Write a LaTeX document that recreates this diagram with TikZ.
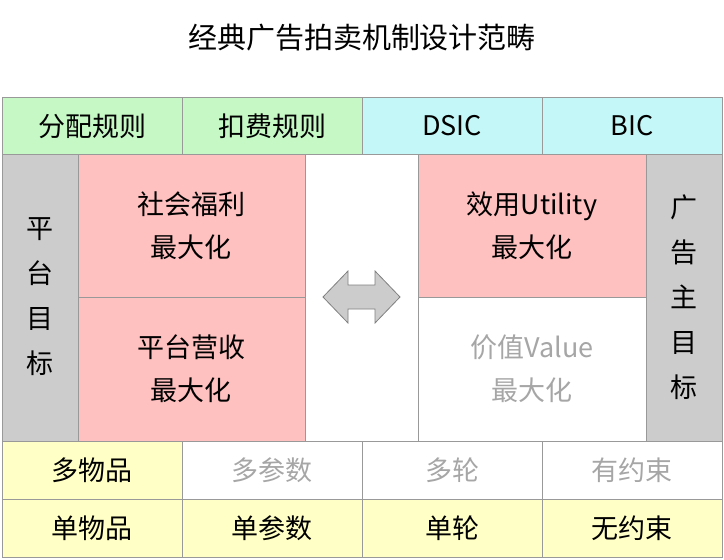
\documentclass[tikz,border=0pt]{standalone}
\usepackage{fontspec}
\setmainfont{Noto Sans CJK SC}
\begin{document}
\begin{tikzpicture}[x=1pt,y=-1pt,
 cell/.style={draw=black!40,line width=0.8pt},
 t/.style={font=\fontsize{27}{43}\selectfont,align=center,text=black},
 tv/.style={font=\fontsize{27}{45}\selectfont,align=center,text=black},
 tg/.style={font=\fontsize{27}{43}\selectfont,align=center,text=black!35}]
\useasboundingbox (0,0) rectangle (724,560);
\definecolor{cg}{HTML}{C6F8C6}\definecolor{cc}{HTML}{C4F8F8}
\definecolor{cgr}{HTML}{CCCCCC}\definecolor{cp}{HTML}{FFC0C0}\definecolor{cy}{HTML}{FFFFC6}
\node[font=\fontsize{29}{35}\selectfont] (title) at (362,38) {经典广告拍卖机制设计范畴};
% top row
\filldraw[cell,fill=cg] (2,97) rectangle (182,154); \node[t] (a1) at (92,126) {分配规则};
\filldraw[cell,fill=cg] (182,97) rectangle (362,154); \node[t] (a2) at (272,126) {扣费规则};
\filldraw[cell,fill=cc] (362,97) rectangle (542,154); \node[t] (a3) at (452,126) {DSIC};
\filldraw[cell,fill=cc] (542,97) rectangle (722,154); \node[t] (a4) at (632,126) {BIC};
% middle
\filldraw[cell,fill=cgr] (2,154) rectangle (78,441); \node[tv] (l) at (40,297) {平\\台\\目\\标};
\filldraw[cell,fill=cp] (78,154) rectangle (305,297); \node[t] (p1) at (191,226) {社会福利\\最大化};
\filldraw[cell,fill=cp] (78,297) rectangle (305,441); \node[t] (p2) at (191,369) {平台营收\\最大化};
\draw[cell,fill=white] (305,154) rectangle (418,441);
\filldraw[cell,fill=cp] (418,154) rectangle (646,297); \node[t] (p3) at (532,226) {效用Utility\\最大化};
\draw[cell,fill=white] (418,297) rectangle (646,441); \node[tg] (p4) at (532,369) {价值Value\\最大化};
\filldraw[cell,fill=cgr] (646,154) rectangle (722,441); \node[tv] (r) at (684,297) {广\\告\\主\\目\\标};
\filldraw[draw=black!50,fill=black!20,line width=0.8pt] (323,297) -- (348,271) -- (348,285) -- (375,285) -- (375,271) -- (400,297) -- (375,323) -- (375,309) -- (348,309) -- (348,323) -- cycle;
% bottom rows
\filldraw[cell,fill=cy] (2,441) rectangle (182,499); \node[t] (b1) at (92,470) {多物品};
\draw[cell] (182,441) rectangle (362,499); \node[tg] (b2) at (272,470) {多参数};
\draw[cell] (362,441) rectangle (542,499); \node[tg] (b3) at (452,470) {多轮};
\draw[cell] (542,441) rectangle (722,499); \node[tg] (b4) at (632,470) {有约束};
\filldraw[cell,fill=cy] (2,499) rectangle (182,557); \node[t] (c1) at (92,528) {单物品};
\filldraw[cell,fill=cy] (182,499) rectangle (362,557); \node[t] (c2) at (272,528) {单参数};
\filldraw[cell,fill=cy] (362,499) rectangle (542,557); \node[t] (c3) at (452,528) {单轮};
\filldraw[cell,fill=cy] (542,499) rectangle (722,557); \node[t] (c4) at (632,528) {无约束};
\end{tikzpicture}
\end{document}
